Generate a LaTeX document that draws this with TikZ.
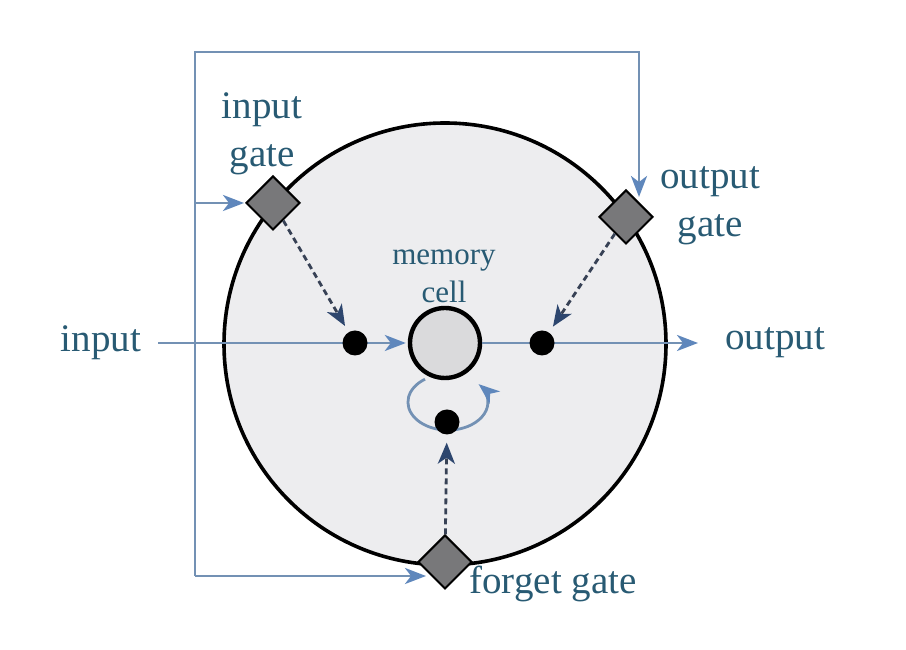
\documentclass[tikz,border=0pt]{standalone}
\usepackage{fontspec}
\setmainfont{Liberation Serif}
\usetikzlibrary{arrows.meta,shapes.geometric,calc}
\definecolor{flowc}{RGB}{115,145,180}
\definecolor{tipc}{RGB}{95,135,188}
\definecolor{dashc}{RGB}{55,65,85}
\definecolor{dtip}{RGB}{45,70,110}
\definecolor{txt}{RGB}{40,90,115}
\definecolor{bigfill}{RGB}{237,237,239}
\definecolor{cellfill}{RGB}{218,218,220}
\definecolor{gatefill}{RGB}{120,120,122}
\begin{document}
\begin{tikzpicture}[x=1pt,y=1pt,line join=miter,
  flow/.style={draw=flowc,line width=2.8pt,-{Stealth[length=21pt,width=16pt,inset=6pt,color=tipc]}},
  dflow/.style={draw=dashc,line width=2.8pt,dash pattern=on 6pt off 4pt,-{Stealth[length=21pt,width=17pt,inset=6pt,color=dtip]}},
  gate/.style={diamond,draw=black,line width=2pt,fill=gatefill,minimum size=54pt,inner sep=0pt},
  blackdot/.style={circle,fill=black,minimum size=25pt,inner sep=0pt},
  lbl/.style={text=txt,font=\fontsize{39}{48}\selectfont,align=center,inner sep=0pt},
  smalllbl/.style={text=txt,font=\fontsize{31}{38}\selectfont,align=center,inner sep=0pt}]
\useasboundingbox (0,0) rectangle (906,650);
% big circle and memory cell
\node[circle,draw=black,line width=3.6pt,fill=bigfill,minimum size=442pt,inner sep=0pt] (big) at (445,306) {};
\node[circle,draw=black,line width=4.4pt,fill=cellfill,minimum size=70pt,inner sep=0pt] (cell) at (445,307) {};
% gates
\node[gate] (ig) at (273,447) {};
\node[gate] (og) at (626,433) {};
\node[gate] (fg) at (445,88) {};
% outer feed lines
\coordinate (tl) at (195,598);
\coordinate (tr) at (639,598);
\draw[flow,shorten >=6pt] (tl |- fg.south west) -- (tl) -- (tr) -- (tr |- og.north east);
\draw[flow,shorten >=5pt] (tl |- fg.south west) -- (fg.south west);
\draw[flow,shorten >=1pt] (tl |- ig.west) -- (ig.west);
% input / output
\coordinate (inS) at (158,307);
\coordinate (outE) at (698,307);
\draw[flow,shorten >=2pt] (inS) -- (cell.west);
\draw[flow] (cell.east) -- (outE);
% self loop
\draw[flow] ($(cell.south)+(-20,1)$) arc[start angle=125,end angle=400,x radius=40,y radius=28];
% dots
\node[blackdot] (d1) at (355,307) {};
\node[blackdot] (d2) at (542,307) {};
\node[blackdot] (d3) at (447,228) {};
% dashed gate arrows
\draw[dflow,shorten >=7pt] (ig) -- (d1);
\draw[dflow,shorten >=7pt] (og) -- (d2);
\draw[dflow,shorten >=8pt] (fg) -- (d3);
% labels
\node[lbl] (tin) at (101,307) {input};
\node[lbl] (tout) at (775,307) {output};
\node[lbl] (tig) at (262,516) {input\\gate};
\node[lbl] (tog) at (710,444) {output\\gate};
\node[smalllbl] (tcell) at (444,374) {memory\\cell};
\node[lbl] (tfg) at (553,66) {forget gate};
\end{tikzpicture}
\end{document}
